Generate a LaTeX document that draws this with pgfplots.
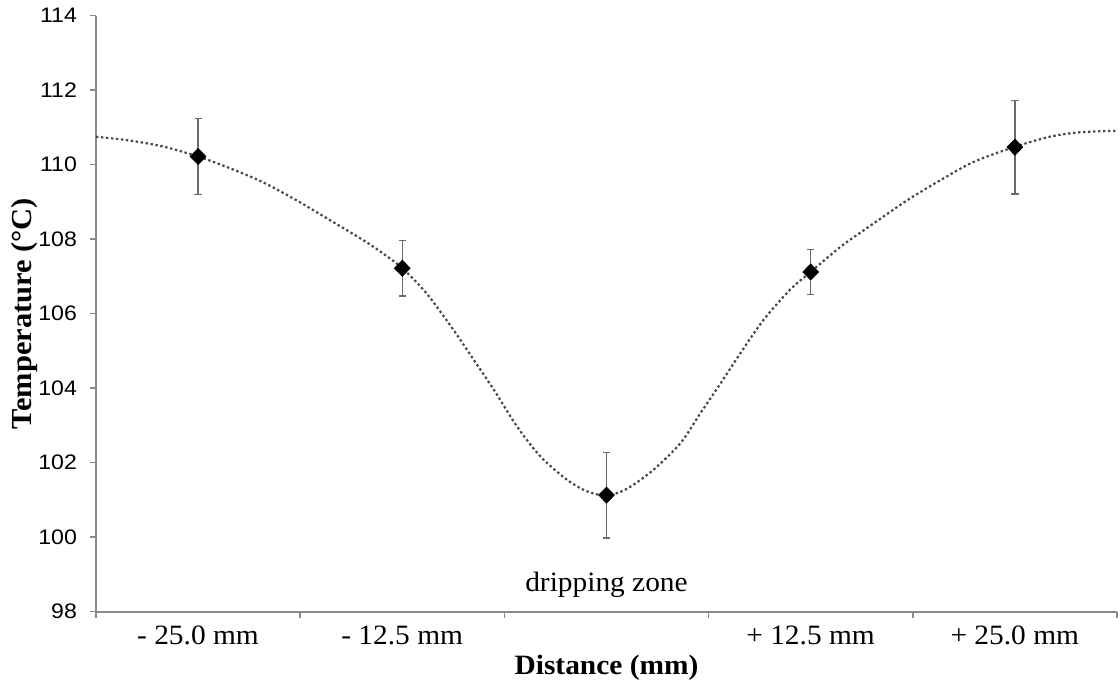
\documentclass[border=0pt]{standalone}
\usepackage{fontspec}
\setmainfont{Liberation Serif}[FakeStretch=1.05]
\newfontfamily\tickfont{Liberation Sans}[FakeStretch=1.1]
\usepackage{pgfplots}
\pgfplotsset{compat=1.18}
\usetikzlibrary{calc}

\definecolor{axisgray}{HTML}{8A8A8A}
\definecolor{errgray}{HTML}{6A6A6A}
\definecolor{curvegray}{HTML}{484848}

\pgfplotstableread{
x    y       e
0    110.22  1.02
1    107.22  0.75
2    101.13  1.15
3    107.12  0.61
4    110.47  1.26
}\meantable

% dotted trend line
\pgfplotstableread{
x      y
-0.5   110.75
-0.337 110.65
-0.173 110.49
0      110.22
0.154  109.91
0.317  109.53
0.48   109.05
0.643  108.52
0.807  107.98
0.905  107.62
1.0    107.22
1.118  106.55
1.25   105.57
1.35   104.76
1.448  103.96
1.562  102.97
1.676  102.17
1.807  101.54
1.905  101.23
2.0    101.12
2.10   101.30
2.23   101.81
2.363  102.53
2.46   103.33
2.56   104.14
2.657  104.95
2.77   105.84
2.90   106.65
3.0    107.12
3.147  107.80
3.31   108.43
3.474  109.05
3.637  109.59
3.80   110.08
4.0    110.48
4.17   110.75
4.32   110.87
4.5    110.91
}\curvetable

\begin{document}
\begin{tikzpicture}
\begin{axis}[
    name=ax,
    scale only axis,
    width=510.5pt,
    height=298pt,
    xmin=-0.5, xmax=4.5,
    ymin=98, ymax=114,
    axis x line*=bottom,
    axis y line*=left,
    axis line style={draw=axisgray, line width=1pt},
    tick style={draw=axisgray, line width=0.8pt},
    tick align=outside,
    major tick length=3pt,
    xtick={-0.5,0.5,...,4.5},
    xticklabels={- 25.0 mm, - 12.5 mm, {}, + 12.5 mm, + 25.0 mm, {}},
    x tick label style={anchor=base, xshift=51pt, yshift=-13.5pt, font=\fontsize{14}{16}\selectfont},
    ytick={98,100,...,114},
    yticklabel style={xshift=-3pt, font=\tickfont\fontsize{10.5}{12}\selectfont},
    /pgf/number format/assume math mode=true,
    xlabel={\textbf{Distance (mm)}},
    ylabel={\textbf{Temperature (°C)}},
    xlabel style={at={(axis description cs:0.5,-0.094)}, anchor=center, font=\fontsize{14}{16}\selectfont},
    ylabel style={at={(axis description cs:-0.07,0.5)}, anchor=center, font=\fontsize{14.5}{16}\selectfont},
    clip=false,
]
\addplot[curvegray, line width=1.1pt, dash pattern=on 1.2pt off 1.3pt, smooth, tension=0.5, mark=none]
    table[x=x, y=y] {\curvetable};
\addplot[only marks, mark=diamond*, mark size=4pt, black,
    mark options={xscale=1.3, fill=black},
    error bars/.cd, y dir=both, y explicit,
    error bar style={errgray, line width=0.7pt},
    error mark options={rotate=90, mark size=1.8pt, errgray, line width=0.7pt}]
    table[x=x, y=y, y error=e] {\meantable};
\node[anchor=base, font=\fontsize{14}{16}\selectfont] at (axis cs:2,98.54) {dripping zone};
\end{axis}
\pgfresetboundingbox
\path ($(ax.south west)+(-48pt,-38pt)$) rectangle ($(ax.north east)+(1.5pt,7.85pt)$);
\end{tikzpicture}
\end{document}
